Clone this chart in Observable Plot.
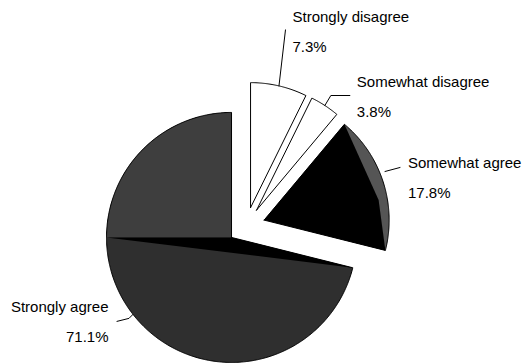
<!DOCTYPE html>
<html><head><meta charset="utf-8">
<script src="https://cdn.jsdelivr.net/npm/d3@7"></script>
<script src="https://cdn.jsdelivr.net/npm/@observablehq/plot@0.6"></script>
<style>
html,body{margin:0;padding:0;background:#fff;}
#chart{width:524px;height:364px;}
</style></head><body><div id="chart"></div>
<script>
// ---- data ----
const categories = ["Strongly disagree", "Somewhat disagree", "Somewhat agree", "Strongly agree"];
const values = [7.3, 3.8, 17.8, 71.1];
const percentLabels = ["7.3%", "3.8%", "17.8%", "71.1%"];

// ---- layout / style (pixels) ----
const W = 524, H = 364, R = 125, CX = 245.8, CY = 225.4, EXPLODE = 0.15;
const labelOffsets = [[13.5, -64, "start"], [32, -19, "start"], [25, -13, "start"], [-24.5, -2.5, "end"]];
const leaderOffsets = [
  [[0, 0], [6.5, -56]],
  [[0, 0], [6, -10], [25, -10]],
  [[2, -10], [17, -14]],
  [[0, 0], [-4, 4], [-16, 7]]
];
const sliceFill = ["white", "white", "#555555", "url(#hstripe)"];

const arcs = d3.pie().sort(null).startAngle(0).endAngle(2 * Math.PI)(values);
const pt = (ax, ay, a, r = 1) => ({x: ax + r * Math.sin(a), y: ay + r * Math.cos(a)});
function arcPts(ax, ay, s, e) {
  const n = Math.max(2, Math.ceil((e - s) / (Math.PI / 360)));
  return d3.range(n + 1).map(k => pt(ax, ay, s + (e - s) * k / n));
}
const slices = arcs.map((a, i) => {
  const mid = (a.startAngle + a.endAngle) / 2;
  const ax = EXPLODE * Math.sin(mid), ay = EXPLODE * Math.cos(mid);
  return {i, name: categories[i], s: a.startAngle, e: a.endAngle, mid, ax, ay};
});
const poly = (id, pts) => pts.map(p => ({...p, id}));
const wedge = (sl, s, e) => [{x: sl.ax, y: sl.ay}, ...arcPts(sl.ax, sl.ay, s, e), {x: sl.ax, y: sl.ay}];

const marks = [];
slices.forEach(sl => {
  marks.push(Plot.line(poly(sl.name, wedge(sl, sl.s, sl.e)), {x: "x", y: "y", fill: sliceFill[sl.i], stroke: "none"}));
});
// shading details
const sa = slices[2], sta = slices[3];
const saInner = pt(sa.ax, sa.ay, sa.s + 0.625 * (sa.e - sa.s), 0.93);
marks.push(Plot.line(poly("satri", [{x: sa.ax, y: sa.ay}, pt(sa.ax, sa.ay, sa.s), saInner, pt(sa.ax, sa.ay, sa.e), {x: sa.ax, y: sa.ay}]), {x: "x", y: "y", fill: "black", stroke: "none"}));
marks.push(Plot.line(poly("staq", wedge(sta, 1.5 * Math.PI, 2 * Math.PI)), {x: "x", y: "y", fill: "url(#checker)", stroke: "none"}));
marks.push(Plot.line(poly("statri", [pt(sta.ax, sta.ay, 1.5 * Math.PI), {x: sta.ax, y: sta.ay}, pt(sta.ax, sta.ay, sta.s), pt(sta.ax, sta.ay, 1.5 * Math.PI)]), {x: "x", y: "y", fill: "black", stroke: "none"}));
// outlines
slices.forEach(sl => {
  marks.push(Plot.line(poly(sl.name, wedge(sl, sl.s, sl.e)), {x: "x", y: "y", stroke: "black", strokeWidth: 1, fill: "none"}));
});
// leaders and labels
slices.forEach(sl => {
  const m = pt(sl.ax, sl.ay, sl.mid);
  const lp = leaderOffsets[sl.i].map(([dx, dy]) => ({x: m.x + dx / R, y: m.y - dy / R}));
  marks.push(Plot.line(lp, {x: "x", y: "y", stroke: "black", strokeWidth: 1}));
  const [ox, oy, anchor] = labelOffsets[sl.i];
  const lab = [{x: m.x + ox / R, y: m.y - oy / R, name: sl.name, pct: percentLabels[sl.i]}];
  marks.push(Plot.text(lab, {x: "x", y: "y", text: "name", textAnchor: anchor, lineAnchor: "bottom", fontSize: 15, fill: "black"}));
  marks.push(Plot.text(lab, {x: "x", y: "y", text: "pct", textAnchor: anchor, lineAnchor: "bottom", dy: 30, fontSize: 15, fill: "black"}));
});

const svg = Plot.plot({
  width: W, height: H, margin: 0,
  x: {domain: [-CX / R, (W - CX) / R], axis: null},
  y: {domain: [(CY - H) / R, CY / R], axis: null},
  style: {background: "white", fontFamily: "'Liberation Sans', Arial, sans-serif", fontSize: "15px"},
  marks
});
const defs = d3.select(svg).insert("defs", ":first-child");
const p1 = defs.append("pattern").attr("id", "hstripe").attr("width", 4).attr("height", 2).attr("patternUnits", "userSpaceOnUse");
p1.append("rect").attr("width", 4).attr("height", 2).attr("fill", "#141414");
p1.append("rect").attr("y", 1).attr("width", 4).attr("height", 1).attr("fill", "#4a4a4a");
const p2 = defs.append("pattern").attr("id", "checker").attr("width", 2).attr("height", 2).attr("patternUnits", "userSpaceOnUse");
p2.append("rect").attr("width", 2).attr("height", 2).attr("fill", "#262626");
p2.append("rect").attr("width", 1).attr("height", 1).attr("fill", "#555");
p2.append("rect").attr("x", 1).attr("y", 1).attr("width", 1).attr("height", 1).attr("fill", "#555");
document.getElementById("chart").appendChild(svg);
</script></body></html>
